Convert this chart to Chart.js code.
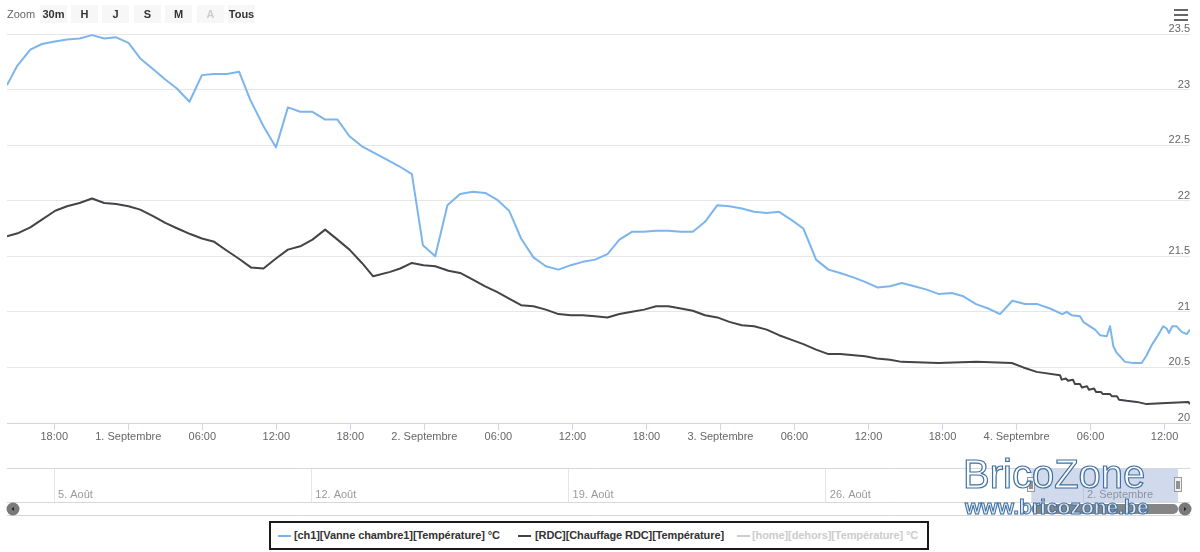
<!DOCTYPE html>
<html>
<head>
<meta charset="utf-8">
<script src="https://cdn.jsdelivr.net/npm/chart.js@4.4.1/dist/chart.umd.min.js"></script>
<style>
  body { margin: 0; background: #fff; font-family: "Liberation Sans", Arial, sans-serif; }
  #wrap { position: relative; width: 1200px; height: 552px; overflow: hidden; }
  canvas { position: absolute; left: 0; }
  #mainChart { top: 0; }
  #navChart { top: 455px; }
  .zoom-label { position: absolute; left: 7px; top: 8px; font-size: 11px; color: #666; }
  .rs-btn { position: absolute; top: 5px; width: 27px; height: 18px; line-height: 18px; background: #f7f7f7;
            text-align: center; font-size: 11px; font-weight: bold; color: #333; }
  .rs-btn.off { color: #ccc; }
  .menu { position: absolute; left: 1174px; width: 14px; height: 2px; background: #666; }
  #legend { position: absolute; left: 269px; top: 521px; width: 656px; height: 25px; border: 2px solid #1a1a1a; background: #fff; }
  .leg-sym { position: absolute; top: 12px; width: 13px; height: 2px; }
  .leg-txt { position: absolute; top: 0; line-height: 25px; font-size: 11px; font-weight: bold; color: #333; white-space: nowrap; letter-spacing: -0.1px; }
  .wm1 { position: absolute; left: 963px; top: 454px; font-size: 40px; line-height: 40px; color: rgba(255,255,255,0.9);
         -webkit-text-stroke: 1.2px #4272a3; white-space: nowrap; }
  .wm2 { position: absolute; left: 965px; top: 496px; font-size: 21px; line-height: 21px; font-weight: bold; color: #dbe7f5;
         -webkit-text-stroke: 1px #3e6d9e; white-space: nowrap; }
</style>
</head>
<body>
<div id="wrap">
  <canvas id="mainChart" width="1200" height="460"></canvas>
  <canvas id="navChart" width="1200" height="70"></canvas>
  <div class="zoom-label">Zoom</div>
  <div id="buttons"></div>
  <div class="menu" style="top:9px"></div>
  <div class="menu" style="top:14px"></div>
  <div class="menu" style="top:19px"></div>
  <div id="legend"></div>
  <div class="wm1">BricoZone</div>
  <div class="wm2">www.bricozone.be</div>
</div>
<script>
// heures depuis le 31 août 00:00
const ch1Hours = [14.17,14.98,16.06,17.0,17.94,19.03,20.05,21.06,22.05,23.02,
  24.02,24.97,26.05,27.0,27.94,28.96,29.97,30.91,32.0,32.99,
  33.88,34.96,35.97,36.94,37.94,38.93,39.96,40.96,41.93,42.94,
  43.93,44.96,45.96,46.99,47.88,48.88,49.87,50.9,51.93,52.93,
  53.88,54.87,55.84,56.84,57.85,58.87,59.87,60.84,61.84,62.84,
  63.81,64.82,65.76,66.78,67.78,68.79,69.76,70.75,71.75,72.72,
  73.73,74.73,75.75,76.75,77.72,78.72,79.75,80.75,81.7,82.77,
  83.72,84.72,85.75,86.69,87.72,88.72,89.72,90.75,91.69,92.72,
  93.71,94.66,95.66,96.69,97.69,98.71,99.71,100.07,100.47,101.14,
  101.41,101.95,102.36,102.77,103.31,103.58,103.85,104.12,104.39,104.79,
  105.47,106.14,106.55,106.95,107.36,107.89,108.17,108.36,108.62,108.98,
  109.38,109.79,110.06];
const ch1Temp = [23.04,23.21,23.36,23.41,23.43,23.45,23.46,23.49,23.46,23.47,
  23.42,23.28,23.18,23.09,23.01,22.89,23.13,23.14,23.14,23.16,
  22.91,22.67,22.48,22.84,22.80,22.80,22.73,22.73,22.58,22.49,
  22.43,22.37,22.31,22.24,21.60,21.50,21.96,22.06,22.08,22.07,
  22.01,21.91,21.66,21.49,21.41,21.38,21.42,21.45,21.47,21.52,
  21.65,21.72,21.72,21.73,21.73,21.72,21.72,21.81,21.96,21.95,
  21.93,21.90,21.89,21.90,21.83,21.75,21.47,21.38,21.35,21.31,
  21.27,21.22,21.23,21.26,21.23,21.20,21.16,21.17,21.14,21.07,
  21.03,20.98,21.10,21.07,21.07,21.03,20.98,21.00,20.97,20.96,
  20.91,20.87,20.84,20.79,20.78,20.87,20.69,20.63,20.60,20.55,
  20.54,20.54,20.61,20.70,20.77,20.87,20.85,20.81,20.87,20.87,
  20.82,20.80,20.84];

const rdcHours = [14.17,15.11,16.06,17.0,18.08,19.03,20.05,21.06,22.05,23.02,
  24.02,24.97,26.05,27.0,27.99,29.02,29.97,30.97,32.0,32.94,
  33.94,34.96,35.97,36.94,37.94,38.93,39.96,40.96,41.93,42.94,
  43.85,45.23,46.04,46.99,47.93,48.88,49.95,50.9,51.93,52.93,
  53.88,54.87,55.84,56.84,57.85,58.87,59.87,60.84,61.84,62.84,
  63.81,64.82,65.81,66.78,67.78,68.79,69.76,70.75,71.75,72.72,
  73.73,74.73,75.75,76.75,77.72,78.72,79.75,80.75,81.7,83.72,
  84.67,85.75,86.69,89.66,92.77,95.61,96.55,97.63,99.52,
  99.66,100.01,100.17,100.57,100.74,101.14,101.3,101.71,101.87,102.28,
  102.44,102.84,103.0,103.58,103.74,104.14,104.31,104.93,105.74,106.55,
  108.17,109.92,110.06];
const rdcTemp = [21.68,21.71,21.76,21.83,21.91,21.95,21.98,22.02,21.98,21.97,
  21.95,21.92,21.86,21.80,21.75,21.70,21.66,21.63,21.55,21.48,
  21.40,21.39,21.48,21.56,21.59,21.65,21.74,21.65,21.56,21.44,
  21.32,21.36,21.39,21.44,21.42,21.41,21.37,21.35,21.29,21.23,
  21.18,21.12,21.06,21.05,21.02,20.98,20.97,20.97,20.96,20.95,
  20.98,21.00,21.02,21.05,21.05,21.03,21.01,20.97,20.95,20.91,
  20.88,20.87,20.84,20.79,20.75,20.71,20.66,20.62,20.62,20.60,
  20.58,20.57,20.55,20.54,20.55,20.54,20.50,20.46,20.43,
  20.39,20.40,20.38,20.39,20.35,20.35,20.32,20.33,20.30,20.31,
  20.28,20.28,20.26,20.26,20.24,20.24,20.21,20.20,20.19,20.17,
  20.18,20.19,20.17];

const xTickHours = [18,24,30,36,42,48,54,60,66,72,78,84,90,96,102,108];
const xTickLabels = ['18:00','1. Septembre','06:00','12:00','18:00','2. Septembre','06:00','12:00',
  '18:00','3. Septembre','06:00','12:00','18:00','4. Septembre','06:00','12:00'];
const yTickValues = [20,20.5,21,21.5,22,22.5,23,23.5];

// navigateur : jours depuis le 1er août 00:00
const navTickDays = [4,11,18,25,32];
const navTickLabels = ['5. Août','12. Août','19. Août','26. Août','2. Septembre'];

const seriesNames = ['[ch1][Vanne chambre1][Température] °C','[RDC][Chauffage RDC][Température]','[home][dehors][Température] °C'];
const seriesColors = ['#7cb5ec','#434348','#cccccc'];
const rangeButtons = ['30m','H','J','S','M','A','Tous'];

const viewStart = 14.17, viewEnd = 110.06;   // heures
const navStart = 2.72, navEnd = 34.91;        // jours

Chart.defaults.font.family = '"Liberation Sans", Arial, sans-serif';
Chart.defaults.font.size = 11;
Chart.defaults.color = '#666';

// boutons de zoom
const btnLeft = [40,71,102,134,165,197,228];
document.getElementById('buttons').innerHTML = rangeButtons.map((b, i) =>
  `<div class="rs-btn${b === 'A' ? ' off' : ''}" style="left:${btnLeft[i]}px">${b}</div>`).join('');

// legende
const legSym = [7, 247, 466], legTxt = [23, 264, 481];
document.getElementById('legend').innerHTML = seriesNames.map((n, i) =>
  `<div class="leg-sym" style="left:${legSym[i]}px;background:${seriesColors[i]}"></div>` +
  `<div class="leg-txt" style="left:${legTxt[i]}px;${i === 2 ? 'color:#ccc' : ''}">${n}</div>`).join('');

new Chart(document.getElementById('mainChart'), {
  type: 'line',
  data: {
    datasets: [
      { label: seriesNames[0], data: ch1Hours.map((h, i) => ({ x: h, y: ch1Temp[i] })),
        borderColor: seriesColors[0], borderWidth: 2, pointRadius: 0, fill: false, borderJoinStyle: 'round' },
      { label: seriesNames[1], data: rdcHours.map((h, i) => ({ x: h, y: rdcTemp[i] })),
        borderColor: seriesColors[1], borderWidth: 2, pointRadius: 0, fill: false, borderJoinStyle: 'round' },
      { label: seriesNames[2], data: [], hidden: true, borderColor: seriesColors[2] }
    ]
  },
  options: {
    responsive: false,
    animation: false,
    layout: { padding: { left: 7, right: 10, top: 34, bottom: 0 } },
    plugins: { legend: { display: false }, tooltip: { enabled: false } },
    scales: {
      x: {
        type: 'linear', min: viewStart, max: viewEnd,
        afterBuildTicks: s => { s.ticks = xTickHours.map(v => ({ value: v })); },
        afterFit: s => { s.height = 37; },
        grid: { drawOnChartArea: false, drawTicks: true, tickLength: 7, color: '#ccd6eb' },
        border: { display: true, color: '#ccd6eb' },
        ticks: { padding: 0, autoSkip: false, maxRotation: 0, color: '#666',
                 callback: v => xTickLabels[xTickHours.indexOf(v)] }
      },
      y: {
        position: 'right', min: 20, max: 23.5,
        afterBuildTicks: s => { s.ticks = yTickValues.map(v => ({ value: v })); },
        afterFit: s => { s.width = 0; },
        grid: { color: '#e6e6e6', drawTicks: false },
        border: { display: false },
        ticks: { mirror: true, padding: 0, labelOffset: -5, color: '#666', callback: v => String(v) }
      }
    }
  }
});

// étiquettes, masque, poignées et barre de défilement du navigateur
const navExtras = {
  id: 'navExtras',
  afterDraw(chart) {
    const { ctx, chartArea: { left, right, top, bottom }, scales: { x } } = chart;
    ctx.save();

    ctx.font = '11px "Liberation Sans", Arial, sans-serif';
    ctx.fillStyle = '#999';
    ctx.textBaseline = 'middle';
    ctx.textAlign = 'left';
    x.ticks.forEach(t => {
      ctx.fillText(navTickLabels[navTickDays.indexOf(t.value)], x.getPixelForValue(t.value) + 4, bottom - 7);
    });

    const m0 = x.getPixelForValue(30 + viewStart / 24);
    const m1 = x.getPixelForValue(30 + viewEnd / 24);
    ctx.fillStyle = 'rgba(102,133,194,0.3)';
    ctx.fillRect(m0, top, m1 - m0, bottom - top);

    ctx.strokeStyle = '#d8d8d8';
    ctx.lineWidth = 1;
    ctx.beginPath();
    ctx.moveTo(left, top + 0.5); ctx.lineTo(right, top + 0.5);
    ctx.moveTo(left, bottom + 0.5); ctx.lineTo(right, bottom + 0.5);
    ctx.moveTo(left, bottom + 13.5); ctx.lineTo(right, bottom + 13.5);
    ctx.stroke();

    // curseur
    ctx.fillStyle = '#858585';
    ctx.beginPath();
    ctx.roundRect(m0, bottom + 2, m1 - m0, 10, 5);
    ctx.fill();

    // boutons ronds
    [[left + 6, -1], [right - 5, 1]].forEach(([cx, dir]) => {
      ctx.fillStyle = '#7a7a7a';
      ctx.beginPath(); ctx.arc(cx, bottom + 7, 6.5, 0, Math.PI * 2); ctx.fill();
      ctx.fillStyle = '#222';
      ctx.beginPath();
      ctx.moveTo(cx + dir * 1.5, bottom + 7);
      ctx.lineTo(cx - dir * 1, bottom + 5);
      ctx.lineTo(cx - dir * 1, bottom + 9);
      ctx.closePath(); ctx.fill();
    });

    // poignées
    const mid = (top + bottom) / 2;
    [m0, m1].forEach(px => {
      const hx = Math.round(px);
      ctx.fillStyle = '#f2f2f2';
      ctx.strokeStyle = '#999';
      ctx.fillRect(hx - 3.5, mid - 7.5, 7, 14);
      ctx.strokeRect(hx - 3.5, mid - 7.5, 7, 14);
      ctx.beginPath();
      ctx.moveTo(hx - 1, mid - 4); ctx.lineTo(hx - 1, mid + 4);
      ctx.moveTo(hx + 1, mid - 4); ctx.lineTo(hx + 1, mid + 4);
      ctx.strokeStyle = '#333';
      ctx.stroke();
    });
    ctx.restore();
  }
};

new Chart(document.getElementById('navChart'), {
  type: 'line',
  data: { datasets: [] },
  options: {
    responsive: false,
    animation: false,
    layout: { padding: { left: 7, right: 10, top: 13, bottom: 0 } },
    plugins: { legend: { display: false }, tooltip: { enabled: false } },
    scales: {
      x: {
        type: 'linear', min: navStart, max: navEnd,
        afterBuildTicks: s => { s.ticks = navTickDays.map(v => ({ value: v })); },
        afterFit: s => { s.height = 23; },
        grid: { color: '#e6e6e6', drawTicks: false },
        border: { display: false },
        ticks: { display: false }
      },
      y: { display: false, min: 0, max: 1 }
    }
  },
  plugins: [navExtras]
});
</script>
</body>
</html>
